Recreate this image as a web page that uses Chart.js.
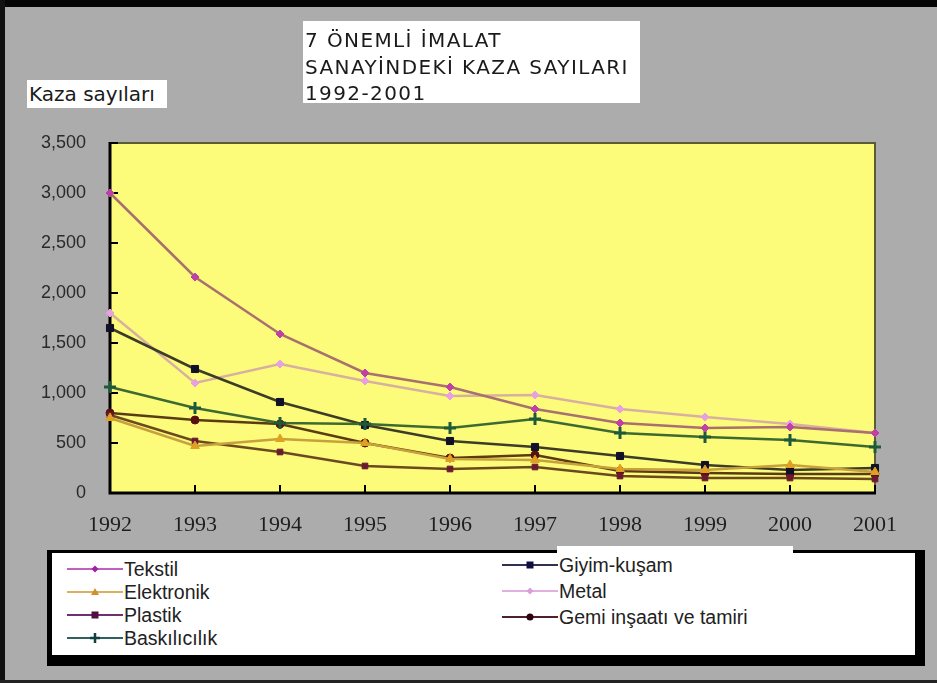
<!DOCTYPE html>
<html lang="tr">
<head>
<meta charset="utf-8">
<title>7 Önemli İmalat Sanayindeki Kaza Sayıları 1992-2001</title>
<script src="https://cdn.jsdelivr.net/npm/chart.js@4.4.1/dist/chart.umd.min.js"></script>
<style>
  html, body { margin: 0; padding: 0; }
  body {
    width: 937px; height: 683px; position: relative; overflow: hidden;
    background: #acacac; font-family: 'Liberation Sans', Arial, sans-serif;
  }
  #frameTop { position: absolute; left: 0; top: 0; width: 937px; height: 7px; background: #050505; }
  #frameLeft { position: absolute; left: 0; top: 0; width: 5px; height: 683px; background: #111; }
  #frameBottom { position: absolute; left: 0; top: 680px; width: 937px; height: 3px; background: #222; }
  #chart { position: absolute; left: 0; top: 0; }
  #title {
    position: absolute; left: 303px; top: 21px; width: 337px; height: 82px;
    box-sizing: border-box; padding: 6px 0 0 2px; background: #fff;
    font-family: 'DejaVu Sans', sans-serif; font-size: 20px; line-height: 26.5px;
    letter-spacing: 1.4px; color: #1a1a1a; white-space: nowrap;
  }
  #yTitle {
    position: absolute; left: 27px; top: 80px; width: 140px; height: 28px;
    box-sizing: border-box; padding-left: 2px; background: #fff;
    font-family: 'DejaVu Sans', sans-serif; font-size: 20px; line-height: 28px; color: #1a1a1a;
  }
  #legend {
    position: absolute; left: 47px; top: 550px; width: 878px; height: 116px;
    box-sizing: border-box; background: #fff;
    border-style: solid; border-color: #000; border-width: 3px 10px 11px 5px;
  }
  #legendGap { position: absolute; left: 557px; top: 546px; width: 236px; height: 8px; background: #fff; }
  .item {
    position: absolute; height: 24px; display: flex; align-items: center;
    font-size: 19.5px; color: #222; white-space: nowrap;
  }
  .item svg { display: block; margin-right: 1px; }
</style>
</head>
<body>
<div id="frameTop"></div>
<div id="frameLeft"></div>
<div id="frameBottom"></div>
<canvas id="chart" width="937" height="683"></canvas>
<div id="title">7 ÖNEMLİ İMALAT<br>SANAYİNDEKİ KAZA SAYILARI<br>1992-2001</div>
<div id="yTitle">Kaza sayıları</div>
<div id="legend"></div>
<div id="legendGap"></div>
<script>
  'use strict';

  // values
  const years = ['1992', '1993', '1994', '1995', '1996', '1997', '1998', '1999', '2000', '2001'];
  const seriesNames = ['Tekstil', 'Elektronik', 'Plastik', 'Baskılıcılık', 'Giyim-kuşam', 'Metal', 'Gemi inşaatı ve tamiri'];
  const tekstil = [3000, 2160, 1590, 1200, 1060, 840, 700, 650, 660, 600];
  const elektronik = [750, 470, 540, 500, 340, 330, 240, 230, 280, 210];
  const plastik = [780, 520, 410, 270, 240, 260, 170, 150, 150, 140];
  const baskilicilik = [1060, 850, 700, 690, 650, 740, 600, 560, 530, 460];
  const giyim = [1650, 1240, 910, 680, 520, 460, 370, 280, 230, 250];
  const metal = [1800, 1100, 1290, 1120, 970, 980, 840, 760, 690, 600];
  const gemi = [800, 730, 690, 500, 350, 380, 220, 200, 190, 190];
  const yTicks = [0, 500, 1000, 1500, 2000, 2500, 3000, 3500];

  // look of each series: in the plot, and in the legend box
  const lineColors = ['#a8706e', '#c8a03c', '#6a4a1e', '#3e6a30', '#3c3c28', '#d8b0a0', '#5a3c14'];
  const pointColors = ['#c040a8', '#e0a020', '#6a1a30', '#1e5a3a', '#101028', '#e8a0e0', '#5a1010'];
  const legendLine = ['#c060c0', '#d8b060', '#703070', '#306060', '#303050', '#e0b0e0', '#502030'];
  const legendMark = ['#a020a0', '#d09030', '#501040', '#104040', '#101040', '#d8a0d8', '#300010'];
  const shapes = ['rectRot', 'triangle', 'rect', 'cross', 'rect', 'rectRot', 'circle'];
  const radii = [4, 5, 4, 6, 5, 4, 4];

  const values = [tekstil, elektronik, plastik, baskilicilik, giyim, metal, gemi];

  const PLOT_BG = '#fcfc7a';

  const plotFrame = {
    id: 'plotFrame',
    beforeDraw(chart) {
      const a = chart.chartArea;
      const ctx = chart.ctx;
      ctx.save();
      ctx.fillStyle = PLOT_BG;
      ctx.fillRect(a.left, a.top, a.right - a.left, a.bottom - a.top);
      ctx.restore();
    },
    beforeDatasetsDraw(chart) {
      const a = chart.chartArea;
      const ctx = chart.ctx;
      const x = chart.scales.x;
      const y = chart.scales.y;
      ctx.save();
      // top and right edges
      ctx.strokeStyle = '#5c5c34';
      ctx.lineWidth = 2;
      ctx.beginPath();
      ctx.moveTo(a.left, a.top);
      ctx.lineTo(a.right, a.top);
      ctx.lineTo(a.right, a.bottom);
      ctx.stroke();
      // inward tick marks
      ctx.strokeStyle = '#000';
      ctx.lineWidth = 2;
      ctx.beginPath();
      y.ticks.forEach((t, i) => {
        const py = y.getPixelForTick(i);
        ctx.moveTo(a.left, py);
        ctx.lineTo(a.left + 8, py);
      });
      x.ticks.forEach((t, i) => {
        const px = x.getPixelForTick(i);
        ctx.moveTo(px, a.bottom);
        ctx.lineTo(px, a.bottom - 8);
      });
      ctx.stroke();
      // the two axes
      ctx.lineWidth = 3;
      ctx.beginPath();
      ctx.moveTo(a.left, a.top - 1);
      ctx.lineTo(a.left, a.bottom);
      ctx.lineTo(a.right + 1, a.bottom);
      ctx.stroke();
      ctx.restore();
    }
  };

  const datasets = seriesNames.map((name, i) => ({
    label: name,
    data: values[i],
    borderColor: lineColors[i],
    backgroundColor: pointColors[i],
    borderWidth: 2.5,
    pointStyle: shapes[i],
    pointRadius: radii[i],
    pointBorderColor: pointColors[i],
    pointBackgroundColor: pointColors[i],
    pointBorderWidth: shapes[i] === 'cross' ? 3 : 1,
    tension: 0,
    clip: false
  }));

  new Chart(document.getElementById('chart'), {
    type: 'line',
    data: { labels: years, datasets },
    options: {
      responsive: false,
      animation: false,
      devicePixelRatio: 1,
      layout: { padding: { top: 143, right: 62, bottom: 150, left: 0 } },
      plugins: { legend: { display: false }, tooltip: { enabled: false } },
      scales: {
        x: {
          offset: false,
          grid: { display: false, drawTicks: false },
          border: { display: false },
          ticks: {
            color: '#1e1e1e', padding: 19, maxRotation: 0, autoSkip: false,
            font: { family: "'Liberation Serif', 'Times New Roman', serif", size: 22 }
          },
          afterFit(s) { s.height = 40; }
        },
        y: {
          min: 0,
          max: 3500,
          afterBuildTicks(s) { s.ticks = yTicks.map((v) => ({ value: v })); },
          grid: { display: false, drawTicks: false },
          border: { display: false },
          ticks: {
            color: '#2a2a2a', padding: 24,
            font: { family: "'Liberation Sans', Arial, sans-serif", size: 18 },
            callback: (v) => Number(v).toLocaleString('en-US')
          },
          afterFit(s) { s.width = 110; }
        }
      }
    },
    plugins: [plotFrame]
  });

  // legend box, two columns like the original
  function swatch(i) {
    const line = `<line x1="0" y1="6" x2="56" y2="6" stroke="${legendLine[i]}" stroke-width="2"/>`;
    const c = legendMark[i];
    let mark;
    switch (shapes[i]) {
      case 'triangle': mark = `<polygon points="28,2 32,9 24,9" fill="${c}"/>`; break;
      case 'rect': mark = `<rect x="24.5" y="2.5" width="7" height="7" fill="${c}"/>`; break;
      case 'cross': mark = `<path d="M28 1 V11 M23 6 H33" stroke="${c}" stroke-width="2.5"/>`; break;
      case 'circle': mark = `<circle cx="28" cy="6" r="3.5" fill="${c}"/>`; break;
      default: mark = `<polygon points="28,2.5 31.5,6 28,9.5 24.5,6" fill="${c}"/>`;
    }
    return `<svg width="56" height="12" viewBox="0 0 56 12">${line}${mark}</svg>`;
  }

  const legendPos = [
    [67, 569], [67, 592], [67, 615], [67, 638],
    [502, 565], [502, 591], [502, 617]
  ];
  document.body.insertAdjacentHTML('beforeend', seriesNames.map((name, i) => {
    const [lx, cy] = legendPos[i];
    return `<div class="item" style="left:${lx}px;top:${cy - 12}px">${swatch(i)}<span>${name}</span></div>`;
  }).join(''));
</script>
</body>
</html>
